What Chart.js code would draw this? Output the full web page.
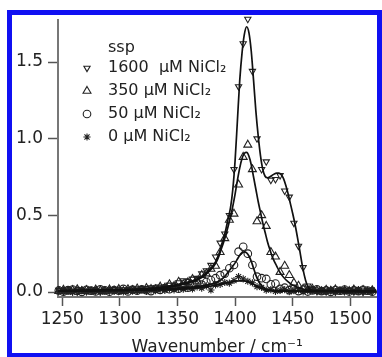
<!DOCTYPE html>
<html>
<head>
<meta charset="utf-8">
<script src="https://cdn.jsdelivr.net/npm/chart.js@4.4.1/dist/chart.umd.min.js"></script>
<style>
  html, body { margin: 0; padding: 0; background: #fff; }
  #wrap { position: relative; width: 382px; height: 357px; overflow: hidden; background: #fff; }
  #plot { position: absolute; left: 0; top: 0; }
  #frame {
    position: absolute; left: 7px; top: 10px; width: 365px; height: 338px;
    border: 5px solid #1010f2; pointer-events: none;
  }
</style>
</head>
<body>
<div id="wrap">
  <canvas id="plot" width="382" height="357" style="width:382px;height:357px"></canvas>
  <div id="frame"></div>
</div>
<script>
// Wavenumbers (cm^-1) of the measured points
const wavenumbers = [
  1247, 1251, 1255, 1259, 1263, 1267, 1271, 1275, 1279, 1283,
  1287, 1291, 1295, 1299, 1303, 1307, 1311, 1315, 1319, 1323,
  1327, 1331, 1335, 1339, 1343, 1347, 1351, 1355, 1359, 1363,
  1367, 1371, 1375, 1379, 1383, 1387, 1391, 1395, 1399, 1403,
  1407, 1411, 1415, 1419, 1423, 1427, 1431, 1435, 1439, 1443,
  1447, 1451, 1455, 1459, 1463, 1467, 1471, 1475, 1479, 1483,
  1487, 1491, 1495, 1499, 1503, 1507, 1511, 1515, 1519
];

// SFG intensity (ssp) for each NiCl2 concentration
const ni1600 = [
  0.012, 0.004, 0.015, 0.008, 0.002, 0.013, 0.006, 0.016, 0.009, 0.003,
  0.014, 0.010, 0.018, 0.007, 0.016, 0.011, 0.021, 0.013, 0.024, 0.016,
  0.028, 0.022, 0.033, 0.030, 0.046, 0.040, 0.062, 0.075, 0.070, 0.085,
  0.090, 0.120, 0.140, 0.175, 0.230, 0.320, 0.380, 0.500, 0.800, 1.340,
  1.620, 1.780, 1.440, 1.000, 0.800, 0.850, 0.730, 0.735, 0.760, 0.660,
  0.620, 0.450, 0.300, 0.160, 0.040, 0.018, 0.005, 0.012, 0.003, 0.010,
  0.001, 0.011, 0.004, 0.013, 0.002, 0.009, 0.000, 0.012, 0.005
];
const ni350 = [
  0.006, 0.014, 0.003, 0.011, 0.017, 0.005, 0.012, 0.002, 0.015, 0.009,
  0.004, 0.016, 0.008, 0.019, 0.006, 0.017, 0.012, 0.022, 0.010, 0.025,
  0.019, 0.017, 0.034, 0.027, 0.050, 0.038, 0.066, 0.050, 0.062, 0.084,
  0.072, 0.110, 0.120, 0.150, 0.170, 0.260, 0.350, 0.470, 0.510, 0.700,
  0.880, 0.960, 0.800, 0.460, 0.500, 0.430, 0.260, 0.230, 0.130, 0.170,
  0.110, 0.060, 0.040, 0.020, 0.012, 0.020, 0.008, 0.003, 0.014, 0.007,
  0.016, 0.002, 0.010, 0.005, 0.015, 0.004, 0.012, 0.001, 0.010
];
const ni50 = [
  0.010, 0.002, 0.012, 0.016, 0.007, 0.001, 0.014, 0.009, 0.004, 0.017,
  0.011, 0.002, 0.013, 0.008, 0.020, 0.004, 0.015, 0.009, 0.018, 0.012,
  0.006, 0.021, 0.014, 0.025, 0.018, 0.030, 0.022, 0.034, 0.028, 0.045,
  0.058, 0.048, 0.065, 0.078, 0.090, 0.110, 0.120, 0.155, 0.176, 0.263,
  0.295, 0.250, 0.176, 0.100, 0.090, 0.085, 0.050, 0.055, 0.020, 0.028,
  0.012, 0.019, 0.006, 0.015, 0.003, 0.011, 0.017, 0.006, 0.010, 0.001,
  0.013, 0.008, 0.016, 0.003, 0.011, 0.006, 0.014, 0.009, 0.002
];
const ni0 = [
  0.003, 0.012, 0.007, -0.002, 0.010, 0.016, 0.001, 0.008, 0.012, 0.000,
  0.009, 0.014, 0.004, 0.011, 0.000, 0.013, 0.006, 0.010, 0.015, 0.004,
  0.012, 0.008, 0.018, 0.011, 0.020, 0.014, 0.024, 0.018, 0.028, 0.020,
  0.034, 0.025, 0.040, 0.013, 0.047, 0.050, 0.062, 0.058, 0.075, 0.100,
  0.085, 0.070, 0.060, 0.035, 0.030, 0.012, 0.015, 0.004, 0.010, 0.016,
  0.002, 0.009, 0.013, 0.000, 0.008, 0.014, 0.003, 0.011, 0.006, 0.015,
  0.002, 0.009, 0.012, 0.004, 0.010, 0.016, 0.003, 0.008, 0.013
];

// Fitted spectra
const fit1600X = [
  1246, 1260, 1280, 1300, 1320, 1330, 1340, 1350, 1360, 1366,
  1370, 1374, 1378, 1380, 1382, 1384, 1386, 1388, 1390, 1392,
  1394, 1396, 1398, 1400, 1402, 1404, 1406, 1408, 1410, 1412,
  1414, 1416, 1418, 1420, 1422, 1424, 1426, 1428, 1430, 1432,
  1434, 1436, 1438, 1440, 1442, 1444, 1446, 1448, 1450, 1452,
  1454, 1456, 1458, 1460, 1462, 1464, 1466, 1470, 1480, 1500, 1523
];
const fit1600Y = [
  0.008, 0.008, 0.010, 0.013, 0.020, 0.026, 0.035, 0.048, 0.066, 0.082,
  0.097, 0.118, 0.148, 0.162, 0.180, 0.210, 0.250, 0.300, 0.350, 0.410,
  0.480, 0.550, 0.670, 0.860, 1.120, 1.380, 1.560, 1.680, 1.730, 1.690,
  1.570, 1.380, 1.180, 1.020, 0.890, 0.800, 0.755, 0.745, 0.750, 0.760,
  0.770, 0.775, 0.775, 0.765, 0.740, 0.695, 0.640, 0.575, 0.510, 0.440,
  0.360, 0.275, 0.185, 0.110, 0.055, 0.025, 0.012, 0.006, 0.005, 0.004, 0.004
];
const fit350X = [
  1246, 1280, 1300, 1320, 1340, 1350, 1360, 1366, 1370, 1374,
  1378, 1380, 1382, 1384, 1386, 1388, 1390, 1392, 1394, 1396,
  1398, 1400, 1402, 1404, 1406, 1408, 1410, 1412, 1414, 1416,
  1418, 1420, 1422, 1424, 1426, 1428, 1430, 1432, 1434, 1436,
  1438, 1440, 1444, 1448, 1452, 1456, 1460, 1466, 1480, 1500, 1523
];
const fit350Y = [
  0.008, 0.010, 0.013, 0.018, 0.030, 0.042, 0.060, 0.076, 0.090, 0.110,
  0.140, 0.155, 0.175, 0.200, 0.235, 0.280, 0.325, 0.375, 0.430, 0.490,
  0.560, 0.640, 0.730, 0.810, 0.870, 0.905, 0.910, 0.885, 0.830, 0.750,
  0.670, 0.590, 0.520, 0.450, 0.390, 0.330, 0.280, 0.235, 0.200, 0.170,
  0.140, 0.115, 0.080, 0.055, 0.037, 0.025, 0.016, 0.010, 0.006, 0.005, 0.004
];
const fit50X = [
  1246, 1300, 1340, 1360, 1370, 1376, 1380, 1384, 1388, 1390,
  1392, 1394, 1396, 1398, 1400, 1402, 1404, 1406, 1408, 1410,
  1412, 1414, 1416, 1418, 1420, 1422, 1424, 1426, 1430, 1440, 1460, 1523
];
const fit50Y = [
  0.008, 0.010, 0.020, 0.030, 0.038, 0.045, 0.052, 0.063, 0.080, 0.093,
  0.110, 0.130, 0.150, 0.170, 0.190, 0.215, 0.240, 0.256, 0.262, 0.255,
  0.235, 0.200, 0.155, 0.110, 0.075, 0.050, 0.033, 0.022, 0.012, 0.007, 0.005, 0.004
];
const fit0X = [1246, 1300, 1340, 1360, 1370, 1380, 1390, 1396, 1400, 1404, 1408, 1412, 1416, 1420, 1424, 1430, 1440, 1523];
const fit0Y = [0.008, 0.010, 0.015, 0.022, 0.030, 0.040, 0.055, 0.064, 0.070, 0.073, 0.072, 0.065, 0.050, 0.033, 0.020, 0.010, 0.006, 0.004];

// Axis ticks
const xTicks = [1250, 1300, 1350, 1400, 1450, 1500];
const yTicks = [0.0, 0.5, 1.0, 1.5];

const legendTitle = 'ssp';
const seriesLabels = ['1600  µM NiCl₂', '350 µM NiCl₂', '50 µM NiCl₂', '0 µM NiCl₂'];

const FONT = '"DejaVu Sans", sans-serif';
Chart.defaults.font.family = FONT;

const pts = (xs, ys) => xs.map((x, i) => ({ x: x, y: ys[i] }));

const markerColor = '#222';
function markerSet(label, values, style, radius, rotation) {
  return {
    label: label,
    data: pts(wavenumbers, values),
    showLine: false,
    pointStyle: style,
    pointRadius: radius,
    pointRotation: rotation,
    pointBorderColor: markerColor,
    pointBackgroundColor: 'rgba(0,0,0,0)',
    pointBorderWidth: 1.1,
    clip: 6,
    order: 2
  };
}
function fitSet(xs, ys) {
  return {
    type: 'line',
    data: pts(xs, ys),
    borderColor: '#111',
    borderWidth: 1.7,
    pointRadius: 0,
    fill: false,
    cubicInterpolationMode: 'monotone',
    order: 1
  };
}

const datasets = [
  markerSet(seriesLabels[0], ni1600, 'triangle', 3.6, 180),
  markerSet(seriesLabels[1], ni350, 'triangle', 4.6, 0),
  markerSet(seriesLabels[2], ni50, 'circle', 3.8, 0),
  markerSet(seriesLabels[3], ni0, 'star', 3.6, 0),
  fitSet(fit1600X, fit1600Y),
  fitSet(fit350X, fit350Y),
  fitSet(fit50X, fit50Y),
  fitSet(fit0X, fit0Y)
];

// Legend drawn inside the plot area, upper left
const inlineLegend = {
  id: 'inlineLegend',
  afterDraw(chart) {
    const ctx = chart.ctx;
    ctx.save();
    ctx.font = '16px ' + FONT;
    ctx.textBaseline = 'middle';
    ctx.textAlign = 'left';
    ctx.fillStyle = '#222';
    ctx.fillText(legendTitle, 108, 48);
    for (let i = 0; i < 4; i++) {
      const ds = chart.data.datasets[i];
      const y = 68 + i * 23;
      ctx.strokeStyle = ds.pointBorderColor;
      ctx.fillStyle = 'rgba(0,0,0,0)';
      ctx.lineWidth = ds.pointBorderWidth;
      Chart.helpers.drawPoint(ctx, {
        pointStyle: ds.pointStyle, radius: ds.pointRadius,
        rotation: ds.pointRotation, borderWidth: ds.pointBorderWidth
      }, 87, y);
      ctx.fillStyle = '#222';
      ctx.fillText(ds.label, 108, y);
    }
    ctx.restore();
  }
};

new Chart(document.getElementById('plot'), {
  type: 'scatter',
  data: { datasets: datasets },
  plugins: [inlineLegend],
  options: {
    responsive: false,
    animation: false,
    events: [],
    layout: { padding: { top: 20, right: 5, left: 0, bottom: 0 } },
    plugins: { legend: { display: false }, tooltip: { enabled: false } },
    scales: {
      x: {
        type: 'linear',
        min: 1246.3,
        max: 1522.5,
        afterBuildTicks: s => { s.ticks = xTicks.map(v => ({ value: v })); },
        afterFit: s => { s.height = 60; },
        grid: { drawOnChartArea: false, drawTicks: true, tickLength: 9, tickWidth: 1.5, color: '#555' },
        border: { color: '#777', width: 2 },
        ticks: {
          font: { size: 17, family: FONT }, color: '#222', padding: 3, maxRotation: 0,
          callback: v => String(v)
        },
        title: {
          display: true, text: 'Wavenumber / cm⁻¹',
          font: { size: 17, family: FONT }, color: '#222',
          padding: { top: 0, bottom: -0.5 }
        }
      },
      y: {
        type: 'linear',
        min: -0.0326,
        max: 1.774,
        afterBuildTicks: s => { s.ticks = yTicks.map(v => ({ value: v })); },
        afterFit: s => { s.width = 58; },
        grid: { drawOnChartArea: false, drawTicks: true, tickLength: 10, tickWidth: 1.5, color: '#555' },
        border: { color: '#777', width: 2 },
        ticks: {
          font: { size: 17, family: FONT }, color: '#222', padding: 5,
          callback: v => v.toFixed(1)
        }
      }
    }
  }
});
</script>
</body>
</html>
